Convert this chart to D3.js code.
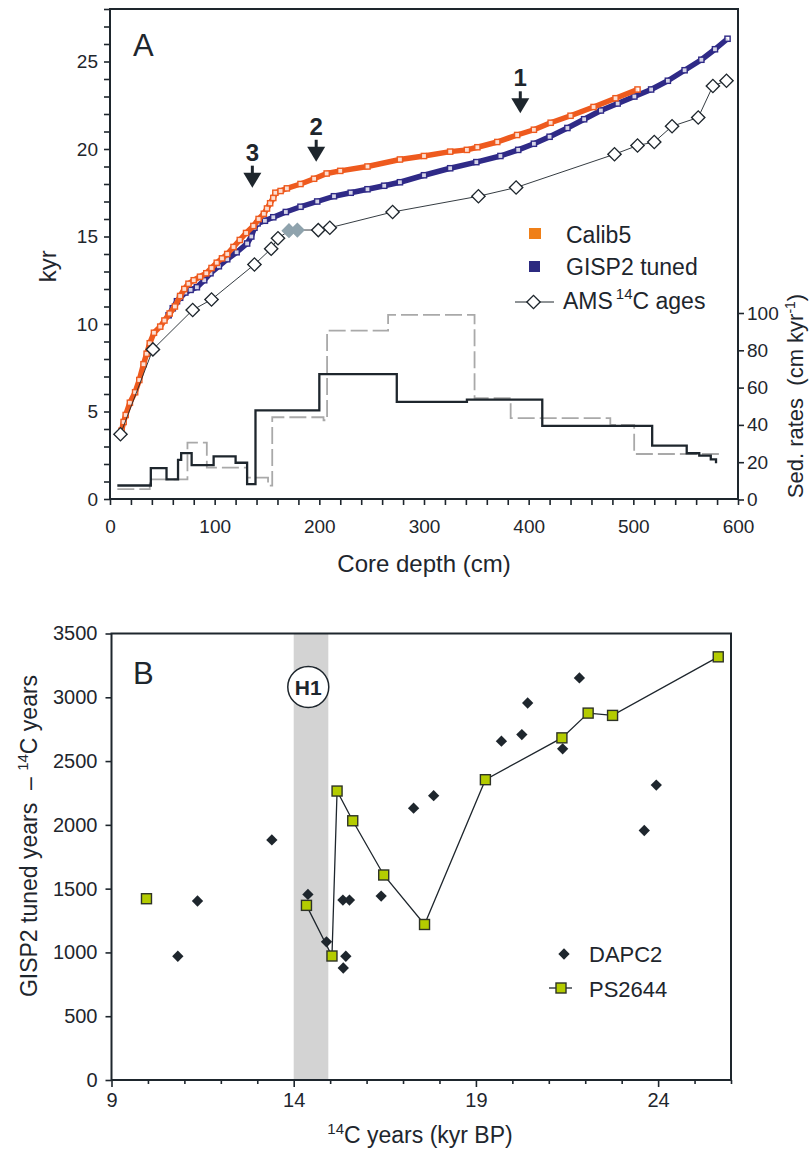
<!DOCTYPE html>
<html><head><meta charset="utf-8">
<script src="https://cdn.jsdelivr.net/npm/d3@7"></script>
<style>
body{margin:0;background:#fff}
svg{display:block}
text{font-family:"Liberation Sans",Arial,sans-serif;fill:#1e262d;white-space:pre}
</style>
</head><body><svg id="c" width="810" height="1152"></svg>
<script>
// ---------------- Panel A data ----------------
const calibDepth = [11,13,15,19,24,28,32,35,38,42,48,52,57,62,67,71,75,80,86,92,97,102,107,112,118,124,130,137,142,147,150,153,156,158,163,169,182,195,207,220,246,277,300,325,341,351,370,389,405,421,440,462,483,504];
const calibAge   = [3.9,4.4,4.8,5.5,6.1,6.8,7.7,8.3,8.9,9.5,9.85,10.2,10.6,11.0,11.6,12.0,12.3,12.5,12.7,12.9,13.2,13.5,13.75,14.0,14.4,14.8,15.2,15.6,16.0,16.3,16.6,16.9,17.2,17.5,17.6,17.75,18.0,18.3,18.6,18.75,19.0,19.4,19.6,19.85,19.95,20.1,20.4,20.8,21.1,21.5,21.9,22.4,22.9,23.4];
const gispDepth  = [56,60,64,67,72,77,83,90,96,104,112,121,131,135,138,141,148,156,168,182,198,214,230,246,262,277,300,325,350,373,390,405,420,437,453,469,485,501,517,533,549,565,578,590];
const gispAge    = [10.5,10.9,11.3,11.5,11.8,11.95,12.1,12.5,12.9,13.3,13.7,14.1,14.6,15.0,15.5,15.75,15.9,16.1,16.4,16.7,17.0,17.3,17.5,17.7,17.9,18.1,18.5,18.9,19.25,19.6,19.95,20.3,20.7,21.2,21.7,22.2,22.6,23.0,23.4,23.9,24.5,25.1,25.7,26.3];
const amsDepth   = [10,41,79,97,138,154,160.5,171,179,199,210,270,352,388,482,504,520,537,562,576,589];
const amsAge     = [3.7,8.55,10.8,11.4,13.4,14.3,14.9,15.33,15.37,15.37,15.5,16.4,17.3,17.8,19.7,20.2,20.4,21.3,21.8,23.6,23.9];
const amsGrayDepth = [171,179];
// sedimentation rates (step starts) – solid black and dashed grey
const rateDepth  = [7,39,54,65,68,78,99,120,131,139,200,274,341,413,518,551,563,574,579];
const rateVal    = [7.5,16.8,10.8,21.3,24.9,18.4,23.1,19.7,8.2,47.8,67.2,52.3,53.6,39.5,28.9,24.8,23.5,21.5,19.4];
const rate2Depth = [7,38,74,92.5,131,151,155,204,207.4,265.7,348.3,382.8,478,500.8,585];
const rate2Val   = [5.6,10.8,30.5,17.1,11.7,7.4,44.1,42.5,90.6,99.0,54.3,43.6,40.0,24.4,24.4];
const depthTicks = [0,100,200,300,400,500,600];
const kyrTicks   = [0,5,10,15,20,25];
const rateTicks  = [0,20,40,60,80,100];
const arrowLabels = ["1","2","3"];
const arrowDepth  = [392,197,136];
const arrowKyr    = [22.04,19.27,17.79];

// ---------------- Panel B data ----------------
const dapcAge  = [10.82,11.36,13.40,14.39,14.90,15.35,15.53,15.43,15.36,16.40,17.29,17.84,19.70,20.26,20.42,21.38,21.84,23.62,23.95];
const dapcDiff = [970,1403,1882,1455,1083,1410,1410,970,878,1442,2131,2229,2656,2708,2955,2596,3152,1956,2312];
const psAge    = [9.96,14.35,15.05,15.19,15.62,16.47,17.59,19.26,21.36,22.08,22.75,25.65];
const psDiff   = [1421,1369,972,2265,2032,1607,1219,2354,2682,2876,2858,3317];
const h1Band   = [14.0,14.95];
const bXTicks  = [9,14,19,24];
const bYTicks  = [0,500,1000,1500,2000,2500,3000,3500];

const INK = "#1e262d", ORANGE = "#ee5a1e", NAVY = "#2f2a87";
const svg = d3.select("#c");

// ================= Panel A =================
const xA = d3.scaleLinear([0,600],[110,738]);
const yA = d3.scaleLinear([0,28],[499,9]);
const rA = d3.scaleLinear([0,100],[499.5,313]);
const gA = svg.append("g");

const stepLine = d3.line().x(d=>xA(d[0])).y(d=>rA(d[1])).curve(d3.curveStepAfter);
gA.append("path").datum(rate2Depth.map((d,i)=>[d,rate2Val[i]]))
  .attr("d",stepLine).attr("fill","none").attr("stroke","#a9a9a9")
  .attr("stroke-width",1.8).attr("stroke-dasharray","17,5");
gA.append("path").datum(rateDepth.map((d,i)=>[d,rateVal[i]]))
  .attr("d",stepLine).attr("fill","none").attr("stroke",INK).attr("stroke-width",2.3);

const lineA = d3.line().x(d=>xA(d[0])).y(d=>yA(d[1]));
function series(dep, age, col){
  const data = dep.map((d,i)=>[d,age[i]]);
  gA.append("path").datum(data).attr("d",lineA).attr("fill","none")
    .attr("stroke",col).attr("stroke-width",5.5).attr("stroke-linejoin","round");
  gA.selectAll(null).data(data).enter().append("rect")
    .attr("x",d=>xA(d[0])-2.6).attr("y",d=>yA(d[1])-2.6)
    .attr("width",5.2).attr("height",5.2)
    .attr("fill","#fff").attr("fill-opacity",0.8).attr("stroke",col).attr("stroke-width",1.4);
}
series(gispDepth, gispAge, NAVY);
series(calibDepth, calibAge, ORANGE);

const amsData = amsDepth.map((d,i)=>[d,amsAge[i]]);
gA.append("path").datum(amsData).attr("d",lineA).attr("fill","none")
  .attr("stroke",INK).attr("stroke-width",0.9);
const diamond = d3.symbol().type(d3.symbolSquare).size(88);
gA.selectAll(null).data(amsData).enter().append("path")
  .attr("d",diamond)
  .attr("transform",d=>`translate(${xA(d[0])},${yA(d[1])}) rotate(45)`)
  .attr("fill",d=>amsGrayDepth.includes(d[0])?"#8fa3ad":"#fff")
  .attr("stroke",d=>amsGrayDepth.includes(d[0])?"#8fa3ad":INK)
  .attr("stroke-width",1.4);

gA.append("rect").attr("x",xA(0)).attr("y",yA(28)).attr("width",xA(600)-xA(0))
  .attr("height",yA(0)-yA(28)).attr("fill","none").attr("stroke",INK).attr("stroke-width",2);

function styleAxis(g, fs){
  g.select(".domain").remove();
  g.selectAll(".tick line").attr("stroke",INK).attr("stroke-width",1.6);
  g.selectAll(".tick text").attr("fill",INK).style("font-size",fs+"px")
   .style("font-family",'"Liberation Sans",Arial,sans-serif');
}
const axL = gA.append("g").attr("transform",`translate(${xA(0)},0)`)
  .call(d3.axisLeft(yA).tickValues(d3.range(0,29,1)).tickSize(6).tickPadding(6)
  .tickFormat(d=>kyrTicks.includes(d)?d:""));
styleAxis(axL,19);
const axB = gA.append("g").attr("transform",`translate(0,${yA(0)})`)
  .call(d3.axisBottom(xA).tickValues(d3.range(0,601,20)).tickSize(6).tickPadding(15)
  .tickFormat(d=>depthTicks.includes(d)?d:""));
styleAxis(axB,19);
const axR = gA.append("g").attr("transform",`translate(${xA(600)},0)`)
  .call(d3.axisRight(rA).tickValues(rateTicks).tickSize(6).tickPadding(3));
styleAxis(axR,19);

arrowLabels.forEach((lab,i)=>{
  const x = xA(arrowDepth[i]), t = yA(arrowKyr[i]);
  gA.append("rect").attr("x",x-1.5).attr("y",t-22).attr("width",3).attr("height",8).attr("fill",INK);
  gA.append("path").attr("d",`M${x-9},${t-15}L${x+9},${t-15}L${x},${t}Z`).attr("fill",INK);
  gA.append("text").attr("x",x).attr("y",t-27).attr("text-anchor","middle")
    .style("font-size","24px").style("font-weight","bold").text(lab);
});

gA.append("text").attr("x",133).attr("y",56).style("font-size","31px").text("A");
gA.append("text").attr("x",(xA(0)+xA(600))/2).attr("y",572).attr("text-anchor","middle")
  .style("font-size","24px").text("Core depth (cm)");
gA.append("text").attr("transform",`translate(56,${yA(13.3)}) rotate(-90)`).attr("text-anchor","middle")
  .style("font-size","24px").text("kyr");
const rt = gA.append("text").attr("transform","translate(803,396) rotate(-90)").attr("text-anchor","middle")
  .style("font-size","22px");
rt.append("tspan").text("Sed. rates  (cm kyr");
rt.append("tspan").attr("dy",-8).style("font-size","14px").text("-1");
rt.append("tspan").attr("dy",8).text(")");

gA.append("rect").attr("x",529).attr("y",228).attr("width",12).attr("height",11).attr("fill","#ef7f18");
gA.append("text").attr("x",566).attr("y",243).style("font-size","23px").text("Calib5");
gA.append("rect").attr("x",529).attr("y",261).attr("width",11).attr("height",11).attr("fill","#2c2a80");
gA.append("text").attr("x",566).attr("y",275).style("font-size","23px").text("GISP2 tuned");
gA.append("line").attr("x1",515).attr("x2",554).attr("y1",302).attr("y2",302).attr("stroke",INK).attr("stroke-width",1);
gA.append("path").attr("d",diamond).attr("transform","translate(533.5,302) rotate(45)")
  .attr("fill","#fff").attr("stroke",INK).attr("stroke-width",1.4);
const lt = gA.append("text").attr("x",563).attr("y",309).style("font-size","23px");
lt.append("tspan").text("AMS");
lt.append("tspan").attr("dx",3).attr("dy",-10).style("font-size","15px").text("14");
lt.append("tspan").attr("dy",10).text("C ages");

// ================= Panel B =================
const xB = d3.scaleLinear([9,26],[111.5,731]);
const yB = d3.scaleLinear([0,3500],[1080,633.5]);
const gB = svg.append("g");

gB.append("rect").attr("x",xB(h1Band[0])).attr("y",yB(3500)).attr("width",xB(h1Band[1])-xB(h1Band[0]))
  .attr("height",yB(0)-yB(3500)).attr("fill","#d3d3d3");

const lineB = d3.line().x(d=>xB(d[0])).y(d=>yB(d[1]));
const psData = psAge.map((d,i)=>[d,psDiff[i]]);
gB.append("path").datum(psData.slice(1)).attr("d",lineB).attr("fill","none")
  .attr("stroke",INK).attr("stroke-width",1.3);
const dDiamond = d3.symbol().type(d3.symbolSquare).size(64);
gB.selectAll(null).data(dapcAge.map((d,i)=>[d,dapcDiff[i]])).enter().append("path")
  .attr("d",dDiamond).attr("transform",d=>`translate(${xB(d[0])},${yB(d[1])}) rotate(45)`)
  .attr("fill",INK);
gB.selectAll(null).data(psData).enter().append("rect")
  .attr("x",d=>xB(d[0])-5).attr("y",d=>yB(d[1])-5).attr("width",10).attr("height",10)
  .attr("fill","#b4cc00").attr("stroke","#2e3326").attr("stroke-width",1.4);

gB.append("rect").attr("x",xB(9)).attr("y",yB(3500)).attr("width",xB(26)-xB(9))
  .attr("height",yB(0)-yB(3500)).attr("fill","none").attr("stroke",INK).attr("stroke-width",2);

const bL = gB.append("g").attr("transform",`translate(${xB(9)},0)`)
  .call(d3.axisLeft(yB).tickValues(bYTicks).tickSize(6).tickPadding(8).tickFormat(d3.format("d")));
styleAxis(bL,20);
const bB = gB.append("g").attr("transform",`translate(0,${yB(0)})`)
  .call(d3.axisBottom(xB).tickValues(d3.range(9,27,1)).tickSize(4).tickPadding(9)
  .tickFormat(d=>bXTicks.includes(d)?d:""));
styleAxis(bB,20);
bB.selectAll(".tick line").attr("y2",d=>bXTicks.includes(d)?7:4);

const h1x = xB(14.4), h1y = 687;
gB.append("circle").attr("cx",h1x).attr("cy",h1y).attr("r",20.5).attr("fill","#fff")
  .attr("stroke",INK).attr("stroke-width",1.5);
gB.append("text").attr("x",h1x).attr("y",h1y+7.5).attr("text-anchor","middle")
  .style("font-size","21px").style("font-weight","bold").text("H1");

gB.append("text").attr("x",133).attr("y",684).style("font-size","31px").text("B");

const bx = gB.append("text").attr("x",420).attr("y",1143).attr("text-anchor","middle").style("font-size","23px");
bx.append("tspan").attr("dy",-9).style("font-size","15px").text("14");
bx.append("tspan").attr("dy",9).text("C years (kyr BP)");
const by = gB.append("text").attr("transform","translate(37,836) rotate(-90)").attr("text-anchor","middle").style("font-size","23px");
by.append("tspan").text("GISP2 tuned years  – ");
by.append("tspan").attr("dy",-9).style("font-size","15px").text("14");
by.append("tspan").attr("dy",9).text("C years");

gB.append("path").attr("d",dDiamond).attr("transform","translate(564,954) rotate(45)").attr("fill",INK);
gB.append("text").attr("x",589).attr("y",962).style("font-size","22px").text("DAPC2");
gB.append("line").attr("x1",549).attr("x2",572).attr("y1",988).attr("y2",988).attr("stroke",INK).attr("stroke-width",1.3);
gB.append("rect").attr("x",556).attr("y",983).attr("width",10).attr("height",10)
  .attr("fill","#b4cc00").attr("stroke","#2e3326").attr("stroke-width",1.4);
gB.append("text").attr("x",589).attr("y",997).style("font-size","22px").text("PS2644");
</script></body></html>
